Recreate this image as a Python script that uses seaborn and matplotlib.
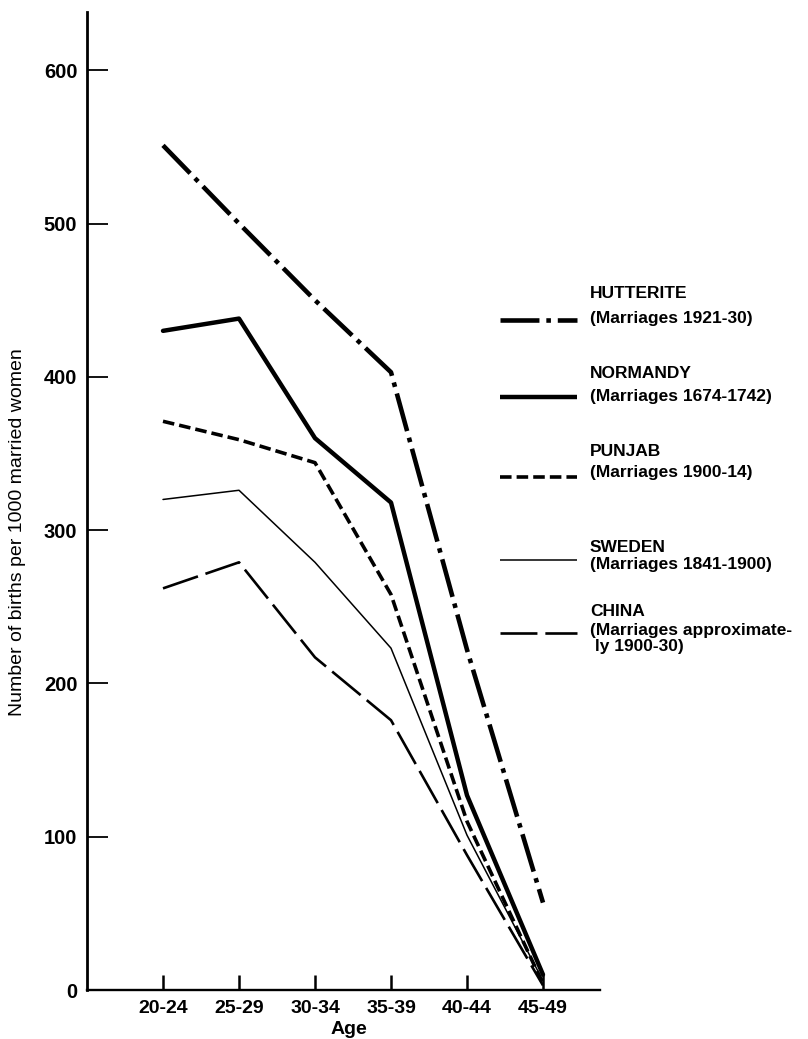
import matplotlib
matplotlib.use("Agg")
import matplotlib.pyplot as plt
from matplotlib.lines import Line2D
import seaborn as sns
import pandas as pd

ages = ["20-24", "25-29", "30-34", "35-39", "40-44", "45-49"]

hutterite = [551, 500, 450, 403, 222, 57]
normandy = [430, 438, 360, 318, 127, 10]
punjab = [371, 359, 344, 258, 110, 4]
sweden = [320, 326, 279, 223, 101, 6]
china = [262, 279, 217, 176, 88, 3]

groups = ["HUTTERITE", "NORMANDY", "PUNJAB", "SWEDEN", "CHINA"]
subtitles = ["(Marriages 1921-30)", "(Marriages 1674-1742)", "(Marriages 1900-14)",
             "(Marriages 1841-1900)", "(Marriages approximate-\n ly 1900-30)"]
yticks = [0, 100, 200, 300, 400, 500, 600]

rows = []
for name, vals in zip(groups, [hutterite, normandy, punjab, sweden, china]):
    for i, v in enumerate(vals):
        rows.append({"pos": i, "age": ages[i], "rate": v, "group": name})
df = pd.DataFrame(rows)

# line looks, lw in points
styles = {
    "HUTTERITE": dict(lw=3.3, dashes=(8.5, 1.5, 1.0, 1.5)),
    "NORMANDY": dict(lw=3.2, dashes=""),
    "PUNJAB": dict(lw=2.6, dashes=(3.2, 1.4)),
    "SWEDEN": dict(lw=1.1, dashes=""),
    "CHINA": dict(lw=1.9, dashes=(14, 3)),
}

sns.set_style("white")
plt.rcParams["font.family"] = ["Liberation Sans", "DejaVu Sans"]
plt.rcParams["text.color"] = "black"
plt.rcParams["xtick.color"] = "black"
plt.rcParams["ytick.color"] = "black"

W, H = 808, 1039
fig = plt.figure(figsize=(W / 100, H / 100), dpi=100)
ax = fig.add_axes([87 / W, 1 - 990 / H, (600 - 87) / W, (990 - 12) / H])

for name in groups:
    st = styles[name]
    sns.lineplot(data=df[df["group"] == name], x="pos", y="rate", ax=ax,
                 color="black", linewidth=st["lw"], legend=False)
    if st["dashes"]:
        ax.lines[-1].set_dashes(st["dashes"])
        ax.lines[-1].set_dash_capstyle("butt")

ax.set_xlim(-1, 5.75)
ax.set_ylim(0, 638)
ax.set_xticks(range(len(ages)))
ax.set_xticklabels(ages, fontsize=14, fontweight="bold")
ax.set_yticks(yticks)
ax.set_yticklabels([str(t) for t in yticks], fontsize=14.5, fontweight="bold")
ax.tick_params(axis="y", direction="in", length=15, width=1.3, pad=7, left=True)
ax.tick_params(axis="x", direction="in", length=11, width=1.8, pad=7, bottom=True)

for side in ["top", "right"]:
    ax.spines[side].set_visible(False)
ax.spines["left"].set_linewidth(2.0)
ax.spines["bottom"].set_linewidth(1.7)
ax.spines["left"].set_color("black")
ax.spines["bottom"].set_color("black")

ax.set_xlabel("")
ax.set_ylabel("")
fig.text(349 / W, 1 - 1029 / H, "Age", ha="center", va="center",
         fontsize=14, fontweight="bold")
fig.text(18 / W, 1 - 532 / H, "Number of births per 1000 married women",
         rotation=90, ha="center", va="center", fontsize=14)

# legend block on the right
title_y = [293, 374, 452, 547, 611]
sub_y = [319, 397, 473, 565, 633]
sample_y = [320, 397, 477, 560, 633]
for name, sub, ty, sy, ly in zip(groups, subtitles, title_y, sub_y, sample_y):
    st = styles[name]
    fig.text(590 / W, 1 - ty / H, name, ha="left", va="center",
             fontsize=12.5, fontweight="bold")
    if "\n" in sub:
        fig.text(590 / W, 1 - (sy - 10) / H, sub, ha="left", va="top",
                 fontsize=12.5, fontweight="bold", linespacing=1.1)
    else:
        fig.text(590 / W, 1 - sy / H, sub, ha="left", va="center",
                 fontsize=12.5, fontweight="bold")
    ln = Line2D([500 / W, 577 / W], [1 - ly / H, 1 - ly / H], transform=fig.transFigure,
                color="black", linewidth=st["lw"], solid_capstyle="butt")
    if st["dashes"]:
        ln.set_dashes(st["dashes"])
    fig.add_artist(ln)

fig.savefig("out.png", dpi=100)
